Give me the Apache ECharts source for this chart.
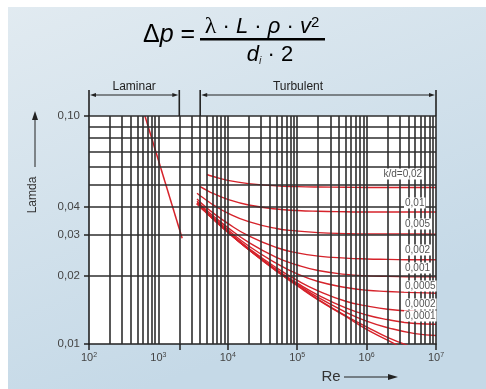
<!DOCTYPE html>
<html><head><meta charset="utf-8">
<script src="https://cdn.jsdelivr.net/npm/echarts@6/dist/echarts.min.js"></script>
<style>html,body{margin:0;padding:0;background:#fff;}#c{width:486px;height:389px;}</style>
</head><body><div id="c"></div>
<script>
// Reynolds numbers at which the curves were read
const reGrid = [3600, 4000, 5000, 6000, 1e4, 2e4, 5e4, 1e5, 2e5, 5e5, 1e6, 2e6, 5e6, 1e7];
// friction factor lambda per relative roughness k/d
const kd0_02    = [null, null, 0.0554, 0.0544, 0.0522, 0.0505, 0.0494, 0.0490, 0.0488, 0.0487, 0.0486, 0.0486, 0.0486, 0.0486];
const kd0_01    = [null, 0.0490, 0.0472, 0.0459, 0.0431, 0.0407, 0.0391, 0.0385, 0.0382, 0.0380, 0.0379, 0.0379, 0.0379, 0.0379];
const kd0_005   = [0.0458, 0.0447, 0.0426, 0.0410, 0.0375, 0.0344, 0.0321, 0.0313, 0.0308, 0.0305, 0.0304, 0.0304, 0.0304, 0.0303];
const kd0_002   = [0.0432, 0.0419, 0.0395, 0.0378, 0.0338, 0.0298, 0.0265, 0.0251, 0.0243, 0.0238, 0.0236, 0.0235, 0.0234, 0.0234];
const kd0_001   = [0.0423, 0.0410, 0.0385, 0.0367, 0.0324, 0.0279, 0.0240, 0.0222, 0.0210, 0.0202, 0.0199, 0.0198, 0.0197, 0.0197];
const kd0_0005  = [0.0417, 0.0405, 0.0379, 0.0361, 0.0317, 0.0269, 0.0226, 0.0203, 0.0188, 0.0177, 0.0172, 0.0170, 0.0168, 0.0167];
const kd0_0002  = [0.0414, 0.0401, 0.0377, 0.0359, 0.0312, 0.0263, 0.0216, 0.0190, 0.0171, 0.0154, 0.0147, 0.0142, 0.0139, 0.0138];
const kd0_0001  = [0.0413, 0.0400, 0.0376, 0.0357, 0.0310, 0.0261, 0.0212, 0.0185, 0.0164, 0.0144, 0.0134, 0.0128, 0.0123, 0.0122];
const kd0_00005 = [0.0412, 0.0400, 0.0375, 0.0356, 0.0310, 0.0260, 0.0211, 0.0183, 0.0160, 0.0138, 0.0126, 0.0118, 0.0111, 0.0109];
const kd0_00001 = [0.0412, 0.0399, 0.0374, 0.0355, 0.0309, 0.0259, 0.0209, 0.0181, 0.0157, 0.0133, 0.0119, 0.0107, 0.0096, 0.0090];
const smoothPipe= [0.0412, 0.0399, 0.0374, 0.0355, 0.0309, 0.0259, 0.0209, 0.0180, 0.0156, 0.0132, 0.0116, 0.0104, 0.0090, 0.0081];
const turbulentCurves = [kd0_02, kd0_01, kd0_005, kd0_002, kd0_001, kd0_0005, kd0_0002, kd0_0001, kd0_00005, kd0_00001, smoothPipe];
// laminar line lambda = 64/Re
const laminarRe = [640, 2200];
const laminarLambda = [0.100, 0.0291];
// grid lines
const xGridValues = [200,300,400,500,600,700,800,900,1000,2000,3000,4000,5000,6000,7000,8000,9000,1e4,2e4,3e4,4e4,5e4,6e4,7e4,8e4,9e4,1e5,2e5,3e5,4e5,5e5,6e5,7e5,8e5,9e5,1e6,2e6,3e6,4e6,5e6,6e6,7e6,8e6,9e6,1e7];
const yGridValues = [0.02,0.03,0.04,0.05,0.06,0.07,0.08,0.09,0.10];
const yTickLabels = [0.01,0.02,0.03,0.04,0.10];
const xTickMarks = [100,2000,1e4,1e5,1e6,1e7];
const kdLabels = ['k/d=0,02','0,01','0,005','0,002','0,001','0,0005','0,0002','0,0001'];
const regionNames = ['Laminar','Turbulent'];

const RED = '#d6232b';
const GRID = '#2e2e2e';
const FONT = 'Liberation Sans, Arial, sans-serif';

const series = [{
  type:'line', data:[], silent:true, z:1,
  markLine:{silent:true, symbol:['none','none'], label:{show:false},
    lineStyle:{color:GRID, width:1.6, type:'solid'}, emphasis:{disabled:true},
    data: xGridValues.map(v=>({xAxis:v})).concat(yGridValues.map(v=>({yAxis:v})))}
}, {
  type:'line', data: laminarRe.map((r,i)=>[r, laminarLambda[i]]), showSymbol:false, z:3,
  lineStyle:{color:RED, width:1.5}
}];
turbulentCurves.forEach(arr=>{
  series.push({type:'line', showSymbol:false, z:3, smooth:0.5, clip:true,
    data: reGrid.map((r,i)=>[r, arr[i]==null?'-':arr[i]]), lineStyle:{color:RED, width:1.4}});
});

const option = {
  animation:false,
  backgroundColor: new echarts.graphic.LinearGradient(0,0,0.3,1,[{offset:0,color:'#e2ebf1'},{offset:1,color:'#c5d9e7'}]),
  grid:{left:89, right:50, top:116, bottom:45, show:true, backgroundColor:'#fff', borderWidth:0},
  xAxis:{type:'log', logBase:10, min:100, max:1e7,
    axisLine:{show:true, lineStyle:{color:'#222', width:1.6}},
    axisTick:{show:true, length:6, customValues:xTickMarks, lineStyle:{color:'#222', width:1.5}},
    splitLine:{show:false}, minorTick:{show:false},
    axisLabel:{margin:8, color:'#444', fontFamily:FONT, fontSize:11,
      formatter:v=>'10{s|'+Math.round(Math.log10(v))+'}',
      rich:{s:{fontSize:7, verticalAlign:'top', lineHeight:8, color:'#444', fontFamily:FONT}}}},
  yAxis:{type:'log', logBase:10, min:0.01, max:0.1,
    axisLine:{show:true, lineStyle:{color:'#222', width:1.6}},
    axisTick:{show:true, length:5, customValues:yTickLabels, lineStyle:{color:'#222', width:1.5}},
    splitLine:{show:false},
    axisLabel:{customValues:yTickLabels, margin:9, color:'#444', fontFamily:FONT, fontSize:11.5,
      formatter:v=>v.toFixed(2).replace('.',',')}},
  series
};
const chart = echarts.init(document.getElementById('c'));
chart.setOption(option);

const px = (re, lam) => chart.convertToPixel({gridIndex:0}, [re, lam]);
const plotTop = px(100, 0.1)[1];
const xL = px(100,0.1)[0], x2k = px(2000,0.1)[0], x4k = px(4000,0.1)[0], xR = px(1e7,0.1)[0];
const bY = 95;
const line = (x1,y1,x2,y2,w,c)=>({type:'line', z:10, shape:{x1,y1,x2,y2}, style:{stroke:c||'#222', lineWidth:w||1}});
const tri = (pts,c)=>({type:'polygon', z:10, shape:{points:pts}, style:{fill:c||'#222'}});
const g = [
  {type:'rect', z:-1, shape:{x:0,y:0,width:8,height:389}, style:{fill:'#fff'}},
  {type:'rect', z:-1, shape:{x:0,y:0,width:486,height:7}, style:{fill:'#fff'}},
];
[xL, x2k, x4k, xR].forEach(x=>g.push(line(x, 90, x, plotTop, 1.6, '#222')));
g.push(line(xL+6, bY, x2k-6, bY, 1), tri([[xL+1,bY],[xL+7,bY-2],[xL+7,bY+2]]), tri([[x2k-1,bY],[x2k-7,bY-2],[x2k-7,bY+2]]));
g.push(line(x4k+6, bY, xR-6, bY, 1), tri([[x4k+1,bY],[x4k+7,bY-2],[x4k+7,bY+2]]), tri([[xR-1,bY],[xR-7,bY-2],[xR-7,bY+2]]));
g.push({type:'text', z:10, style:{text:regionNames[0], x:(xL+x2k)/2, y:87, align:'center', verticalAlign:'middle', font:'12px '+FONT, fill:'#222'}});
g.push({type:'text', z:10, style:{text:regionNames[1], x:298, y:87, align:'center', verticalAlign:'middle', font:'12px '+FONT, fill:'#222'}});
// axis names
g.push({type:'text', z:10, rotation:Math.PI/2, x:33, y:195, style:{text:'Lamda', x:0, y:0, align:'center', verticalAlign:'middle', font:'12px '+FONT, fill:'#333'}});
g.push(line(35,167,35,118,1,'#222'), tri([[35,111],[32,120],[38,120]]));
g.push({type:'text', z:10, style:{text:'Re', x:331, y:377, align:'center', verticalAlign:'middle', font:'15px '+FONT, fill:'#333'}});
g.push(line(344,377,390,377,1,'#222'), tri([[398,377],[388,374],[388,380]]));
// formula
g.push({type:'text', z:10, style:{text:'{u|Δ}{i|p}{u| =}', x:143, y:35, align:'left', verticalAlign:'middle',
  rich:{u:{font:'25px '+FONT, fill:'#000'}, i:{font:'italic 25px '+FONT, fill:'#000'}}}});
g.push({type:'rect', z:10, shape:{x:200,y:38,width:125,height:2.5}, style:{fill:'#000'}});
g.push({type:'text', z:10, style:{text:'{l|λ}{u| · }{i|L}{u| · }{i|ρ}{u| · }{i|v}{s|2}', x:262, y:27, align:'center', verticalAlign:'middle',
  rich:{l:{font:'24px Liberation Serif, serif', fill:'#000'}, u:{font:'22px '+FONT, fill:'#000'}, i:{font:'italic 22px '+FONT, fill:'#000'},
        s:{font:'15px '+FONT, fill:'#000', verticalAlign:'top', lineHeight:10}}}});
g.push({type:'text', z:10, style:{text:'{i|d}{b|i}{u| · 2}', x:270, y:55, align:'center', verticalAlign:'middle',
  rich:{u:{font:'22px '+FONT, fill:'#000'}, i:{font:'italic 22px '+FONT, fill:'#000'}, b:{font:'italic 11px '+FONT, fill:'#333', verticalAlign:'bottom', lineHeight:10}}}});
// k/d labels
const labY = [174, 203, 224, 250, 268, 286, 304, 316];
kdLabels.forEach((t,i)=>{
  g.push({type:'text', z:12, style:{text:t, x: i===0?382.5:404, y:labY[i], align:'left', verticalAlign:'middle',
    font:'10px '+FONT, fill:'#555', backgroundColor:'#fff', padding:[1,1,0,1]}});
});
chart.setOption({graphic:g});
</script></body></html>
